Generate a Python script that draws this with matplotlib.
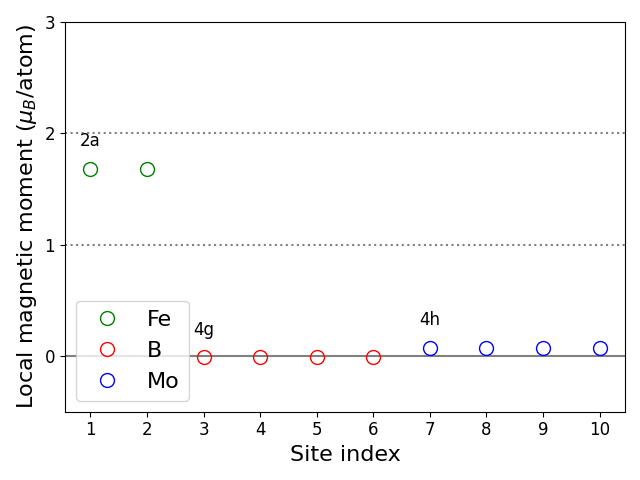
import matplotlib
matplotlib.use("Agg")
import matplotlib.pyplot as plt

fe_sites = [1, 2]
fe_moments = [1.68, 1.68]
b_sites = [3, 4, 5, 6]
b_moments = [-0.013, -0.013, -0.013, -0.013]
mo_sites = [7, 8, 9, 10]
mo_moments = [0.072, 0.072, 0.072, 0.072]
labels = ["2a", "4g", "4h"]
label_pos = [(0.82, 1.93), (2.82, 0.235), (6.82, 0.32)]

fig, ax = plt.subplots(figsize=(6.4, 4.8), dpi=100)
ax.axhline(0, color="gray", lw=1.5)
ax.axhline(1, color="gray", ls=":", lw=1.5)
ax.axhline(2, color="gray", ls=":", lw=1.5)
ax.plot(fe_sites, fe_moments, "o", mfc="none", mec="green", ms=10, label="Fe")
ax.plot(b_sites, b_moments, "o", mfc="none", mec="red", ms=10, label="B")
ax.plot(mo_sites, mo_moments, "o", mfc="none", mec="blue", ms=10, label="Mo")
for t, (x, y) in zip(labels, label_pos):
    ax.text(x, y, t, fontsize=12, va="center", ha="left")
ax.set_ylim(-0.5, 3)
ax.set_xlim(0.55, 10.45)
ax.set_xticks(range(1, 11))
ax.set_yticks([0, 1, 2, 3])
ax.tick_params(labelsize=12)
ax.set_xlabel("Site index", fontsize=16)
ax.set_ylabel(r"Local magnetic moment ($\mu_B$/atom)", fontsize=16)
ax.legend(loc="lower left", fontsize=16)
fig.tight_layout()
fig.savefig("out.png")
